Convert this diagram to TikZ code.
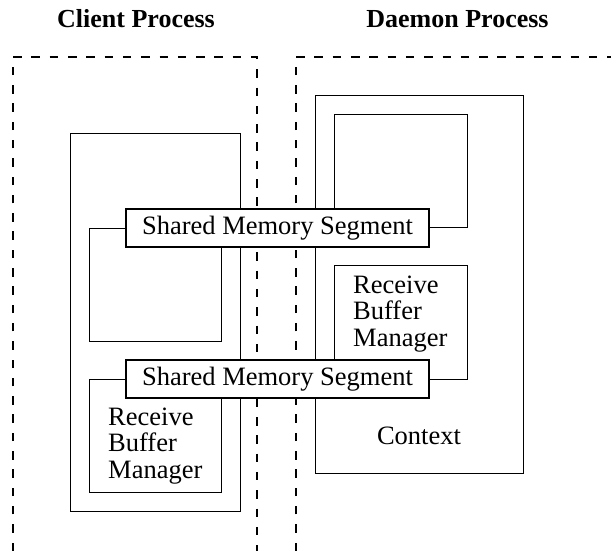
\documentclass[tikz,border=0pt]{standalone}
\usepackage{fontspec}
\setmainfont{Liberation Serif}
\begin{document}
\begin{tikzpicture}[x=1pt,y=-1pt,
  box/.style={draw, line width=1.2pt, inner sep=0pt, anchor=north west},
  proc/.style={line width=2.6pt, dash pattern=on 8.5pt off 9.8pt},
  seg/.style={draw, line width=1.2pt, fill=white, minimum width=303pt, minimum height=38pt, inner sep=0pt, font=\fontsize{26.5}{26.5}\selectfont},
  lbl/.style={inner sep=0pt, font=\fontsize{26.5}{26.5}\selectfont, anchor=base west},
  ttl/.style={font=\fontsize{26}{26}\selectfont\bfseries, inner sep=0pt, anchor=base}]
\useasboundingbox (0,0) rectangle (611,551);
% titles
\node[ttl] (tclient) at (136,28) {Client Process};
\node[ttl] (tdaemon) at (457.5,28) {Daemon Process};
% process borders
\draw[proc] (13,551) -- (13,57) -- (257,57) -- (257,551);
\draw[proc] (296,551) -- (296,57) -- (611,57);
% client context
\node[box, minimum width=170pt, minimum height=378pt] (cctx) at (70,133) {};
\node[box, minimum width=132pt, minimum height=113pt] (cup) at (89,228) {};
\node[box, minimum width=132pt, minimum height=113pt] (crbm) at (89,379) {};
% daemon context
\node[box, minimum width=208pt, minimum height=378pt] (dctx) at (315,95) {};
\node[box, minimum width=133pt, minimum height=113pt] (dup) at (334,114) {};
\node[box, minimum width=133pt, minimum height=114pt] (drbm) at (334,265) {};
% labels
\node[lbl] (dr1) at (353,293) {Receive};
\node[lbl] (dr2) at (353,319.5) {Buffer};
\node[lbl] (dr3) at (353,346) {Manager};
\node[lbl] (cr1) at (108,425) {Receive};
\node[lbl] (cr2) at (108,451.5) {Buffer};
\node[lbl] (cr3) at (108,478) {Manager};
\node[lbl, anchor=base] (dctxl) at (419,444) {Context};
% shared memory segments
\node[seg] (seg1) at (277.5,228) {Shared Memory Segment};
\node[seg] (seg2) at (277.5,379) {Shared Memory Segment};
\end{tikzpicture}
\end{document}
